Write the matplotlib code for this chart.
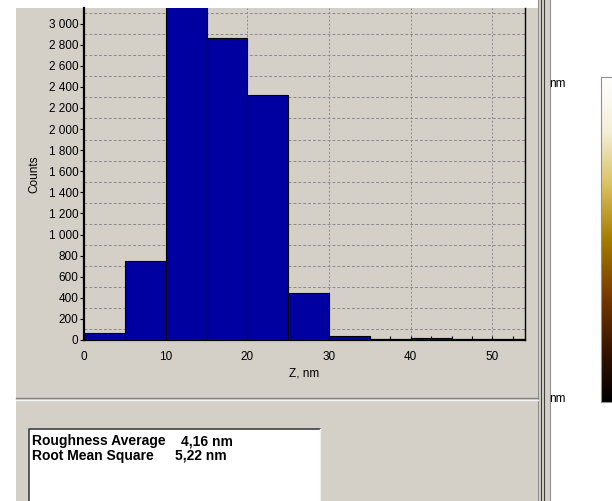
import matplotlib.pyplot as plt
import numpy as np
from matplotlib.patches import Rectangle
from matplotlib.lines import Line2D
from matplotlib.colors import LinearSegmentedColormap
from matplotlib.ticker import FuncFormatter

# Histogram bins (Z, nm) and counts
bin_edges = [0, 5, 10, 15, 20, 25, 30, 35, 40, 45, 50]
counts = [65, 750, 3300, 2865, 2320, 445, 40, 0, 15, 0]

y_ticks = list(range(0, 3001, 200))
y_grid = list(range(100, 3101, 200))
x_ticks = [0, 10, 20, 30, 40, 50]

stats_names = ["Roughness Average", "Root Mean Square"]
stats_values = ["4,16 nm", "5,22 nm"]
scale_colors = ["#000000", "#3a1500", "#7a3c00", "#a67c00", "#d9c060", "#f5efd8", "#ffffff"]

W, H = 612, 501
panel_gray = "#d4d0c8"
plt.rcParams['font.family'] = ['Liberation Sans', 'DejaVu Sans']

fig = plt.figure(figsize=(W / 100, H / 100), dpi=100)
fig.patch.set_facecolor("white")


def fx(px):
    return px / W


def fy(py):
    return 1 - py / H


# gray window panel
fig.patches.append(Rectangle((fx(16), 0), fx(538 - 16), fy(8), transform=fig.transFigure,
                             facecolor=panel_gray, edgecolor="none", zorder=-5))
fig.patches.append(Rectangle((fx(538), 0), fx(13), 1, transform=fig.transFigure,
                             facecolor=panel_gray, edgecolor="none", zorder=-5))
# window frame lines
for xp, c in [(538, "#909090"), (541, "#404040"), (544, "#404040"), (550, "#909090")]:
    fig.lines.append(Line2D([fx(xp), fx(xp)], [0, 1], transform=fig.transFigure, color=c, lw=0.8))
fig.lines.append(Line2D([fx(16), fx(538)], [fy(398), fy(398)], transform=fig.transFigure, color="#808080", lw=1))
fig.lines.append(Line2D([fx(16), fx(538)], [fy(400), fy(400)], transform=fig.transFigure, color="#f4f4f4", lw=1))

# histogram axes
ax = fig.add_axes([fx(84), fy(340), fx(525 - 84), (340 - 8) / H])
ax.set_facecolor(panel_gray)
ax.bar(bin_edges[:-1], counts, width=np.diff(bin_edges), align="edge",
       color="#0000a0", edgecolor="black", linewidth=0.8, zorder=3)
ax.set_xlim(0, 54)
ax.set_ylim(0, (340 - 8) / 0.1055)

ax.set_xticks(x_ticks)
ax.set_xticks(np.arange(0, 54, 2.5), minor=True)
ax.set_yticks(y_ticks)
ax.set_yticks(y_grid, minor=True)
ax.yaxis.set_major_formatter(FuncFormatter(lambda v, p: f"{int(v):,}".replace(",", " ")))
ax.tick_params(axis="x", which="both", direction="in", length=3, width=0.8, labelsize=8.5, pad=8)
ax.tick_params(axis="y", which="major", direction="out", length=3, width=0.8, labelsize=8.5, pad=1)
ax.tick_params(axis="y", which="minor", length=0)
ax.grid(axis="x", which="major", color="#8a8a8a", linestyle=(0, (2, 2)), linewidth=0.7, zorder=1)
ax.grid(axis="y", which="minor", color="#8a8a8a", linestyle=(0, (3, 2)), linewidth=0.7, zorder=1)
ax.set_axisbelow(True)
ax.spines["top"].set_visible(False)
ax.spines["left"].set_linewidth(1.6)
ax.spines["bottom"].set_linewidth(1.6)
ax.spines["right"].set_linewidth(1.0)
ax.set_xlabel("Z, nm", fontsize=8.5, labelpad=3)
ax.set_ylabel("Counts", fontsize=8.5, labelpad=6)

# roughness text box
fig.patches.append(Rectangle((fx(29), 0), fx(320 - 29), fy(429), transform=fig.transFigure,
                             facecolor="white", edgecolor="none", zorder=1))
fig.lines.append(Line2D([fx(29), fx(29), fx(320)], [0, fy(429), fy(429)], transform=fig.transFigure,
                        color="#404040", lw=1.2, zorder=2))
fig.lines.append(Line2D([fx(320), fx(320)], [0, fy(429)], transform=fig.transFigure,
                        color="#f0f0f0", lw=1, zorder=2))
for i, (name, val) in enumerate(zip(stats_names, stats_values)):
    yy = fy(441 + 15 * i)
    fig.text(fx(32), yy, name, fontsize=10, fontweight="bold", va="center", ha="left", zorder=3)
    fig.text(fx(181 - 6 * i), yy, val, fontsize=10, fontweight="bold", va="center", ha="left", zorder=3)

# colour scale on the right
cmap = LinearSegmentedColormap.from_list("afm", scale_colors)
cax = fig.add_axes([fx(601), fy(402), fx(13), (402 - 77) / H])
cax.imshow(np.linspace(0, 1, 256)[:, None], cmap=cmap, aspect="auto", origin="lower")
cax.set_xticks([])
cax.set_yticks([])
for s in cax.spines.values():
    s.set_color("#909090")
fig.text(fx(549), fy(84), "nm", fontsize=8.5, va="center", ha="left")
fig.text(fx(549), fy(399), "nm", fontsize=8.5, va="center", ha="left")

plt.savefig("out.png", dpi=100)
